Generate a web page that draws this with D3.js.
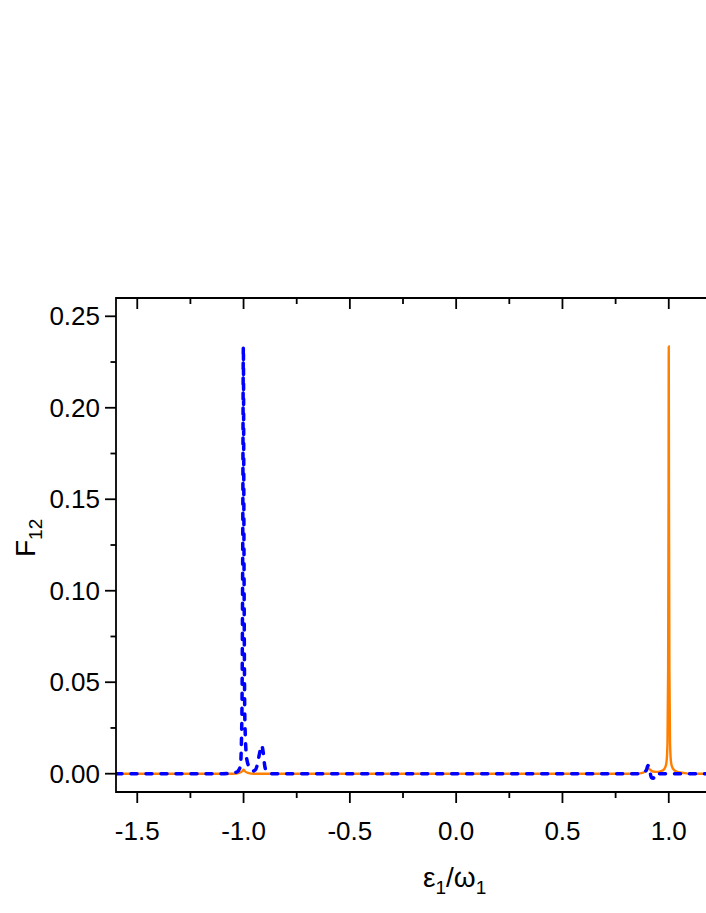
<!DOCTYPE html>
<html>
<head>
<meta charset="utf-8">
<script src="https://cdn.jsdelivr.net/npm/d3@7"></script>
<style>
  body { margin: 0; background: #fff; }
  svg { display: block; font-family: "Liberation Sans", Arial, sans-serif; }
</style>
</head>
<body>
<script>
// orange solid curve
var orangeX = [-1.6, -1.05, -1.02, -1.005, -1.0, -0.995, -0.98, -0.95, 0.85, 0.88, 0.895, 0.904, 0.912, 0.925, 0.94, 0.96, 0.975, 0.985, 0.99, 0.994, 0.997, 0.999, 1.0, 1.001, 1.003, 1.006, 1.01, 1.015, 1.025, 1.04, 1.07, 1.1, 1.6];
var orangeY = [0, 0, 0.0005, 0.0015, 0.0022, 0.0015, 0.0005, 0, 0, 0.0006, 0.002, 0.0032, 0.0022, 0.0012, 0.001, 0.0013, 0.002, 0.004, 0.007, 0.017, 0.057, 0.15, 0.2335, 0.15, 0.057, 0.017, 0.007, 0.004, 0.002, 0.001, 0.0004, 0, 0];
// blue dashed curve
var blueX = [-1.6, -1.1, -1.06, -1.03, -1.015, -1.008, -1.004, -1.001, -0.998, -0.994, -0.985, -0.97, -0.955, -0.945, -0.935, -0.925, -0.915, -0.908, -0.9, -0.89, -0.87, 0.86, 0.88, 0.895, 0.902, 0.91, 0.918, 0.927, 0.94, 0.955, 1.6];
var blueY = [0, 0, 0.0003, 0.001, 0.004, 0.03, 0.12, 0.2335, 0.12, 0.03, 0.008, 0.003, 0.0015, 0.002, 0.005, 0.011, 0.0155, 0.012, 0.004, 0.001, 0, 0, 0.0005, 0.002, 0.0045, 0.002, -0.002, -0.0025, 0.0004, 0, 0];

var xTicks = [-1.5, -1.0, -0.5, 0.0, 0.5, 1.0, 1.5];
var xMinor = [-1.25, -0.75, -0.25, 0.25, 0.75, 1.25];
var yTicks = [0.00, 0.05, 0.10, 0.15, 0.20, 0.25];
var yMinor = [0.025, 0.075, 0.125, 0.175, 0.225];

var W = 706, H = 913;
var padL = 116, padT = 298, padB = 792;
var pxPerUnit = 212.6;

var svg = d3.select("body").append("svg").attr("width", W).attr("height", H);

var x = d3.scaleLinear().domain([-1.6, 1.6]).range([padL, padL + 3.2 * pxPerUnit]);
var y = d3.scaleLinear().domain([-0.01, 0.26]).range([padB, padT]);

svg.append("clipPath").attr("id", "plotclip")
  .append("rect").attr("x", padL).attr("y", padT)
  .attr("width", x(1.6) - padL).attr("height", padB - padT);

var plot = svg.append("g").attr("clip-path", "url(#plotclip)");

var line = d3.line()
  .x(function(d){ return x(d[0]); })
  .y(function(d){ return y(d[1]); })
  .curve(d3.curveMonotoneX);

plot.append("path")
  .datum(d3.zip(orangeX, orangeY))
  .attr("d", line)
  .attr("fill", "none")
  .attr("stroke", "#ff8000")
  .attr("stroke-width", 2.4);

plot.append("path")
  .datum(d3.zip(blueX, blueY))
  .attr("d", line)
  .attr("fill", "none")
  .attr("stroke", "#0000ff")
  .attr("stroke-width", 3.5)
  .attr("stroke-linecap", "round")
  .attr("stroke-dasharray", "6,9");

// axes
var axes = svg.append("g").attr("stroke", "#000").attr("stroke-width", 1.8);

axes.append("line").attr("x1", padL).attr("x2", padL).attr("y1", padT - 0.9).attr("y2", padB + 0.9);
axes.append("line").attr("x1", padL).attr("x2", W).attr("y1", padB).attr("y2", padB);
axes.append("line").attr("x1", padL).attr("x2", W).attr("y1", padT).attr("y2", padT);

// bottom ticks (outward)
axes.selectAll(".xmaj").data(xTicks).enter().append("line")
  .attr("x1", function(d){ return x(d); }).attr("x2", function(d){ return x(d); })
  .attr("y1", padB).attr("y2", padB + 11);
axes.selectAll(".xmin").data(xMinor).enter().append("line")
  .attr("x1", function(d){ return x(d); }).attr("x2", function(d){ return x(d); })
  .attr("y1", padB).attr("y2", padB + 6);
// top ticks (inward)
axes.selectAll(".tmaj").data(xTicks).enter().append("line")
  .attr("x1", function(d){ return x(d); }).attr("x2", function(d){ return x(d); })
  .attr("y1", padT).attr("y2", padT + 11);
axes.selectAll(".tmin").data(xMinor).enter().append("line")
  .attr("x1", function(d){ return x(d); }).attr("x2", function(d){ return x(d); })
  .attr("y1", padT).attr("y2", padT + 6);
// left ticks (outward)
axes.selectAll(".ymaj").data(yTicks).enter().append("line")
  .attr("x1", padL - 11).attr("x2", padL)
  .attr("y1", function(d){ return y(d); }).attr("y2", function(d){ return y(d); });
axes.selectAll(".ymin").data(yMinor).enter().append("line")
  .attr("x1", padL - 5.5).attr("x2", padL)
  .attr("y1", function(d){ return y(d); }).attr("y2", function(d){ return y(d); });

// tick labels (only those inside the visible window)
svg.selectAll(".xl").data(xTicks.filter(function(d){ return x(d) + 20 < W; })).enter().append("text")
  .attr("x", function(d){ return x(d); })
  .attr("y", 840)
  .attr("text-anchor", "middle")
  .attr("font-size", 26)
  .text(function(d){ return d3.format(".1f")(d).replace("−", "-"); });

svg.selectAll(".yl").data(yTicks).enter().append("text")
  .attr("x", 100)
  .attr("y", function(d){ return y(d) + 9; })
  .attr("text-anchor", "end")
  .attr("font-size", 26)
  .text(function(d){ return d3.format(".2f")(d); });

// axis titles
var xt = svg.append("text")
  .attr("x", 423)
  .attr("y", 887)
  .attr("font-size", 28);
xt.append("tspan").text("ε");
xt.append("tspan").attr("font-size", 19).attr("dy", 7).text("1");
xt.append("tspan").attr("dy", -7).text("/ω");
xt.append("tspan").attr("font-size", 19).attr("dy", 7).text("1");

var yt = svg.append("text")
  .attr("transform", "translate(35,557) rotate(-90)")
  .attr("font-size", 28);
yt.append("tspan").text("F");
yt.append("tspan").attr("font-size", 19).attr("dy", 7).text("12");
</script>
</body>
</html>
